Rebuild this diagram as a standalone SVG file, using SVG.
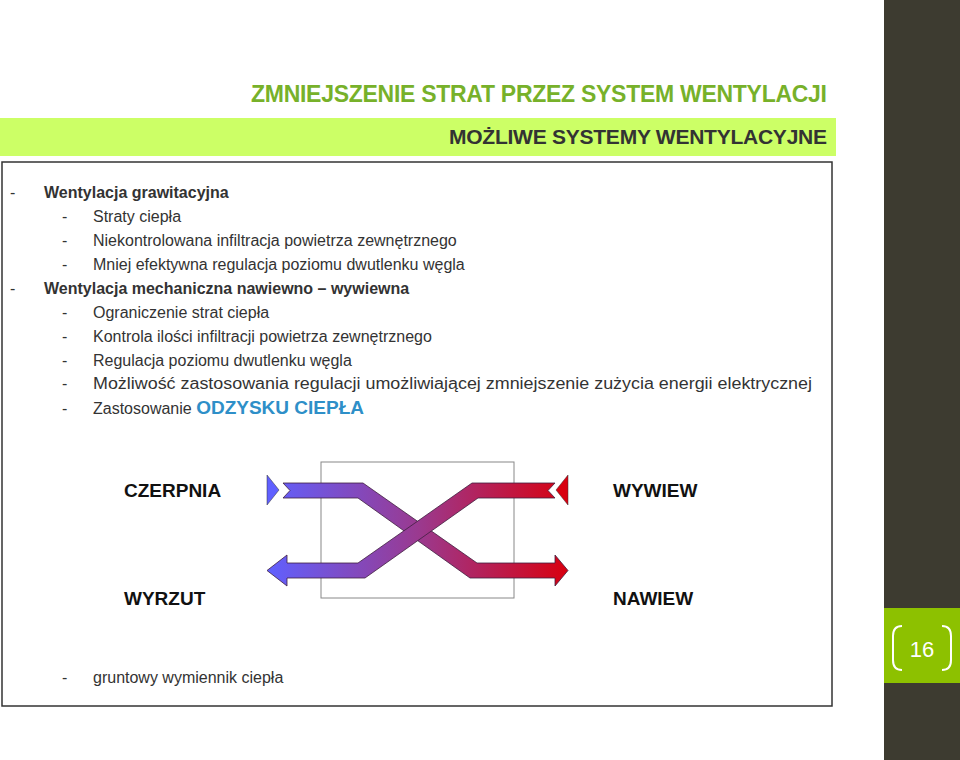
<svg xmlns="http://www.w3.org/2000/svg" width="960" height="760" viewBox="0 0 960 760">
<style>
.t{font-family:"Liberation Sans",Arial,sans-serif;font-size:16px;fill:#333}
.b{font-weight:bold}
.l{font-family:"Liberation Sans",Arial,sans-serif;font-size:19px;font-weight:bold;fill:#111}
.band{stroke:#402040;stroke-width:0.8}
</style>
<defs>
<linearGradient id="g" gradientUnits="userSpaceOnUse" x1="267" y1="0" x2="568" y2="0">
<stop offset="0" stop-color="#6060ff"/><stop offset="0.5" stop-color="#9a3a90"/><stop offset="1" stop-color="#d80010"/>
</linearGradient>
</defs>
<rect width="960" height="760" fill="#fff"/>
<rect x="884" y="0" width="76" height="760" fill="#3d3b30"/>
<g id="page"><rect x="884" y="608" width="76" height="75" fill="#8dc100"/>
<text x="922" y="657" text-anchor="middle" font-family="Liberation Sans,sans-serif" font-size="22" fill="#fff">16</text>
<path d="M902 626 q-9 0 -9 10 v24 q0 10 9 10 M942 626 q9 0 9 10 v24 q0 10 -9 10" fill="none" stroke="#fff" stroke-width="2"/></g>
<text x="827" y="102" text-anchor="end" font-family="Liberation Sans,sans-serif" font-size="23" font-weight="bold" fill="#77b12a" textLength="576">ZMNIEJSZENIE STRAT PRZEZ SYSTEM WENTYLACJI</text>
<rect x="0" y="118" width="836" height="38" fill="#ccff66"/>
<text x="827" y="144" text-anchor="end" font-family="Liberation Sans,sans-serif" font-size="21" font-weight="bold" fill="#333" textLength="378">MOŻLIWE SYSTEMY WENTYLACYJNE</text>
<rect x="2" y="162" width="830" height="544" fill="none" stroke="#333" stroke-width="1.5"/>
<g class="t">
<text x="10" y="198">-</text><text class="b" x="44" y="198">Wentylacja grawitacyjna</text>
<text x="62" y="222">-</text><text x="93" y="222">Straty ciepła</text>
<text x="62" y="246">-</text><text x="93" y="246">Niekontrolowana infiltracja powietrza zewnętrznego</text>
<text x="62" y="270">-</text><text x="93" y="270">Mniej efektywna regulacja poziomu dwutlenku węgla</text>
<text x="10" y="294">-</text><text class="b" x="44" y="294">Wentylacja mechaniczna nawiewno – wywiewna</text>
<text x="62" y="318">-</text><text x="93" y="318">Ograniczenie strat ciepła</text>
<text x="62" y="342">-</text><text x="93" y="342">Kontrola ilości infiltracji powietrza zewnętrznego</text>
<text x="62" y="366">-</text><text x="93" y="366">Regulacja poziomu dwutlenku węgla</text>
<text x="62" y="389">-</text><text x="93" y="389" textLength="719" lengthAdjust="spacingAndGlyphs">Możliwość zastosowania regulacji umożliwiającej zmniejszenie zużycia energii elektrycznej</text>
<text x="62" y="414">-</text><text x="93" y="414">Zastosowanie <tspan font-size="19" font-weight="bold" fill="#2e8fc8">ODZYSKU CIEPŁA</tspan></text>
<text x="62" y="683">-</text><text x="93" y="683">gruntowy wymiennik ciepła</text>
</g>
<g id="exchanger">
<rect x="321" y="462" width="193" height="136" fill="none" stroke="#888" stroke-width="1"/>
<polygon class="band" fill="url(#g)" points="283,483 290,490.5 283,498 358,498 470,578 555,578 555,586 568,570.5 555,555 555,563 477,563 363,483"/>
<polygon class="band" fill="url(#g)" points="555,483 548,490.5 555,498 478,498 365,578 287,578 287,586 267,570.5 287,555 287,563 358,563 472,483"/>
<polygon points="267,475 279,490 267,505" fill="#6060ff" stroke="#333" stroke-width="0.5"/>
<polygon points="568,475 556,490 568,505" fill="#d80010" stroke="#333" stroke-width="0.5"/>
</g>
<g id="labels">
<text class="l" x="124" y="497">CZERPNIA</text>
<text class="l" x="613" y="497">WYWIEW</text>
<text class="l" x="124" y="605">WYRZUT</text>
<text class="l" x="613" y="605">NAWIEW</text>
</g>
<g id="connectors"/>
</svg>
